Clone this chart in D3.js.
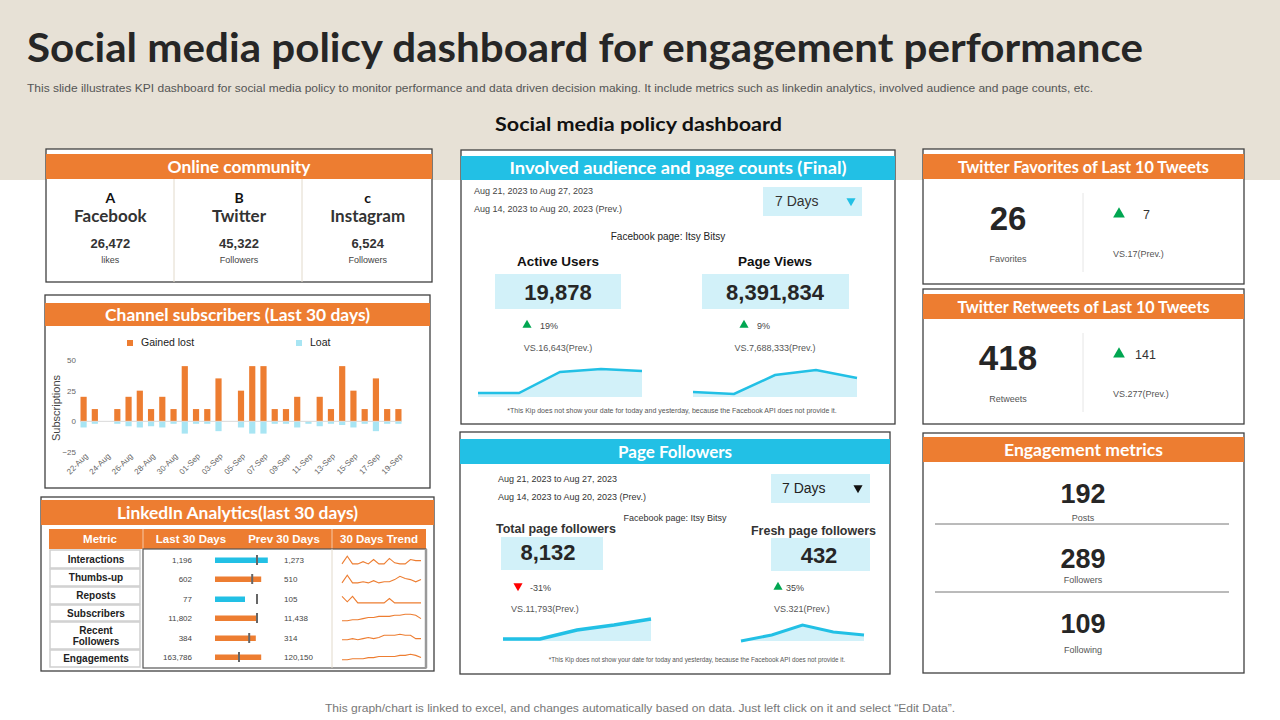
<!DOCTYPE html>
<html lang="en">
<head>
<meta charset="utf-8">
<title>Social media policy dashboard</title>
<script src="https://d3js.org/d3.v7.min.js"></script>
<style>
  body { margin: 0; background: #fff; }
  svg { display: block; }
  text { font-family: "Liberation Sans", Arial, sans-serif; }
  .hd { font-family: Lato, "Open Sans", sans-serif; font-weight: 700; }
</style>
</head>
<body>
<script>

const W = 1280, H = 720;
const orange = "#ED7D31", blue = "#22C0E5", pale = "#D2F1F9", paleBar = "#A8E5F3", green = "#00A651";

// ---- data ----
const days = ["22-Aug","23-Aug","24-Aug","25-Aug","26-Aug","27-Aug","28-Aug","29-Aug","30-Aug","31-Aug",
              "01-Sep","02-Sep","03-Sep","04-Sep","05-Sep","06-Sep","07-Sep","08-Sep","09-Sep","10-Sep",
              "11-Sep","12-Sep","13-Sep","14-Sep","15-Sep","16-Sep","17-Sep","18-Sep","19-Sep"];
const gained = [20,10,0,10,20,25,10,20,10,45, 10,10,35,0,25,45,45,10,10,20, 0,20,10,45,25,10,35,10,10];
const lost   = [-5,-2,0,-2,-4,-5,-4,-5,-2,-10, -2,-2,-8,0,-5,-10,-10,-2,-2,-5, -2,-4,-2,-3,-5,-2,-8,-2,-2];
const subTicks = [50, 25, 0, -25];

const networks = ["Facebook", "Twitter", "Instagram"];
const networkLetters = ["A", "B", "c"];
const networkValues = ["26,472", "45,322", "6,524"];
const networkUnits = ["likes", "Followers", "Followers"];

const liMetrics = ["Interactions", "Thumbs-up", "Reposts", "Subscribers", "Recent|Followers", "Engagements"];
const liLast = ["1,196", "602", "77", "11,802", "384", "163,786"];
const liPrev = ["1,273", "510", "105", "11,438", "314", "120,150"];
const liBar = [88, 77, 50, 70, 68, 77];      // bullet bar, % of scale
const liTarget = [70, 62, 70, 70, 57, 40];   // bullet marker, % of scale
const liBarBlue = [true, false, true, false, false, false];
const liTrend = [
  [1, 8, 1, 1, 3, 1, 5, 1, 1, 6, 2, 1, 1, 5, 4, 4],
  [1, 8, 1, 1, 2, 1, 3, 1, 2, 2, 4, 7, 5, 4, 2, 4],
  [7, 2, 7, 1, 1, 1, 1, 1, 1, 5, 1, 1, 1, 1, 1, 1],
  [2, 2, 3, 3, 4, 5, 5, 6, 6, 6, 7, 7, 8, 8, 7, 4],
  [3, 3, 4, 3, 4, 5, 4, 5, 7, 7, 7, 8, 7, 7, 4, 4],
  [2, 2, 3, 3, 3, 4, 4, 5, 5, 5, 5, 6, 6, 7, 6, 4]
];

const activeUsersTrend = [4, 4, 25, 28, 26];
const pageViewsTrend = [5, 3, 22, 27, 19];
const totalFollowersTrend = [2, 2, 11, 16, 22];
const freshFollowersTrend = [0, 6, 16, 9, 6];

const engValues = ["192", "289", "109"];
const engLabels = ["Posts", "Followers", "Following"];

// ---- canvas ----
const svg = d3.select("body").append("svg").attr("width", W).attr("height", H);
svg.append("rect").attr("width", W).attr("height", H).attr("fill", "#fff");
svg.append("rect").attr("width", W).attr("height", 180).attr("fill", "#E7E1D6");

svg.append("text").attr("class", "hd").attr("x", 27).attr("y", 62)
   .attr("font-size", 40).attr("fill", "#262626")
   .attr("textLength", 1116).attr("lengthAdjust", "spacingAndGlyphs")
   .text("Social media policy dashboard for engagement performance");
svg.append("text").attr("x", 27).attr("y", 92).attr("font-size", 11.5).attr("fill", "#555")
   .attr("textLength", 1066).attr("lengthAdjust", "spacingAndGlyphs")
   .text("This slide illustrates KPI dashboard for social media policy to monitor performance and data driven decision making. It include metrics such as linkedin analytics, involved audience and page counts, etc.");
svg.append("text").attr("class", "hd").attr("x", 495).attr("y", 131).attr("font-size", 19).attr("fill", "#111")
   .attr("textLength", 287).attr("lengthAdjust", "spacingAndGlyphs")
   .text("Social media policy dashboard");

function panel(x, y, w, h, hy, hh, title, color, tl) {
  const g = svg.append("g");
  g.append("rect").attr("x", x).attr("y", y).attr("width", w).attr("height", h)
   .attr("fill", "#fff").attr("stroke", "#404040").attr("stroke-width", 1.3);
  g.append("rect").attr("x", x).attr("y", hy).attr("width", w).attr("height", hh).attr("fill", color);
  g.append("text").attr("class", "hd").attr("x", x + w / 2 - tl / 2).attr("y", hy + hh / 2 + 6)
   .attr("font-size", 17).attr("fill", "#fff")
   .attr("textLength", tl).attr("lengthAdjust", "spacingAndGlyphs").text(title);
  return g;
}
function txt(g, x, y, s, size, opts = {}) {
  return g.append("text").attr("x", x).attr("y", y).attr("font-size", size)
    .attr("fill", opts.fill || "#333").attr("font-weight", opts.bold ? 700 : 400)
    .attr("text-anchor", opts.anchor || "start").text(s);
}
function tri(g, x, y, color, down, size = 36) {
  g.append("path").attr("d", d3.symbol(d3.symbolTriangle).size(size)())
   .attr("transform", `translate(${x},${y}) rotate(${down ? 180 : 0})`).attr("fill", color);
}

// ---- Online community ----
const pc = panel(46, 149, 386, 133, 154, 25, "Online community", orange, 143);
const colX = d3.scaleBand().domain(networks).range([46, 432]);
[174, 302].forEach(x => pc.append("line").attr("x1", x).attr("x2", x).attr("y1", 179).attr("y2", 282)
  .attr("stroke", "#E2DACB"));
networks.forEach((n, i) => {
  const cx = colX(n) + colX.bandwidth() / 2;
  pc.append("text").attr("class", "hd").attr("x", cx).attr("y", 203).attr("text-anchor", "middle")
    .attr("font-size", 14).attr("fill", "#111").text(networkLetters[i]);
  pc.append("text").attr("class", "hd").attr("x", cx).attr("y", 222).attr("text-anchor", "middle")
    .attr("font-size", 17).attr("font-weight", 600).attr("fill", "#333").text(n);
  txt(pc, cx, 248, networkValues[i], 13, { bold: true, anchor: "middle", fill: "#333" });
  txt(pc, cx, 263, networkUnits[i], 9, { anchor: "middle", fill: "#444" });
});

// ---- Channel subscribers ----
const ps = panel(45, 295, 385, 193, 303, 23, "Channel subscribers  (Last 30 days)", orange, 265);
const x = d3.scaleBand().domain(days).range([80.5, 401.5]).paddingInner(0.45);
const y = d3.scaleLinear().domain([-25, 50]).range([452, 360]);
ps.append("rect").attr("x", 127).attr("y", 340).attr("width", 6).attr("height", 6).attr("fill", orange);
txt(ps, 141, 346, "Gained lost", 10.5, { fill: "#222" });
ps.append("rect").attr("x", 296).attr("y", 340).attr("width", 6).attr("height", 6).attr("fill", paleBar);
txt(ps, 310, 346, "Loat", 10.5, { fill: "#222" });

const yAx = ps.append("g").attr("transform", "translate(78,0)")
  .call(d3.axisLeft(y).tickValues(subTicks).tickSize(0).tickPadding(2));
yAx.select(".domain").remove();
yAx.selectAll("text").attr("font-size", 8).attr("fill", "#666").attr("font-family", "Liberation Sans, Arial");

ps.selectAll(".g").data(days).enter().append("rect")
  .attr("x", d => x(d)).attr("width", x.bandwidth())
  .attr("y", (d, i) => y(gained[i])).attr("height", (d, i) => y(0) - y(gained[i])).attr("fill", orange);
ps.selectAll(".l").data(days).enter().append("rect")
  .attr("x", d => x(d)).attr("width", x.bandwidth())
  .attr("y", y(0)).attr("height", (d, i) => y(lost[i]) - y(0)).attr("fill", paleBar);
ps.append("line").attr("x1", 80).attr("x2", 402).attr("y1", y(0)).attr("y2", y(0))
  .attr("stroke", "#D9D9D9").attr("stroke-width", 1);

const xAx = ps.append("g").attr("transform", "translate(0,455)")
  .call(d3.axisBottom(x).tickValues(days.filter((d, i) => i % 2 === 0)).tickSize(0).tickPadding(0));
xAx.select(".domain").remove();
xAx.selectAll("text").attr("font-size", 8).attr("fill", "#666").attr("font-family", "Liberation Sans, Arial")
  .attr("text-anchor", "end").attr("dy", "0.3em").attr("transform", "translate(3,0) rotate(-45)");
ps.append("text").attr("transform", "translate(60,408) rotate(-90)").attr("text-anchor", "middle")
  .attr("font-size", 11).attr("fill", "#444").text("Subscriptions");

// ---- LinkedIn Analytics ----
const pl = panel(41, 497, 393, 174, 500, 25, "LinkedIn Analytics(last 30 days)", orange, 241);
pl.append("rect").attr("x", 49).attr("y", 529).attr("width", 377).attr("height", 20).attr("fill", orange);
[143, 332].forEach(xx => pl.append("line").attr("x1", xx).attr("x2", xx).attr("y1", 529).attr("y2", 549)
  .attr("stroke", "#F6C9A8"));
[["Metric", 100], ["Last 30 Days", 191], ["Prev 30 Days", 284], ["30 Days Trend", 379]].forEach(([s, cx]) =>
  txt(pl, cx, 543, s, 11.5, { bold: true, anchor: "middle", fill: "#fff" }));
pl.append("rect").attr("x", 143).attr("y", 549).attr("width", 283).attr("height", 119)
  .attr("fill", "none").attr("stroke", "#555").attr("stroke-width", 1.2);
pl.append("line").attr("x1", 426).attr("x2", 426).attr("y1", 549).attr("y2", 668)
  .attr("stroke", "#999").attr("stroke-width", 2.5);
pl.append("line").attr("x1", 332).attr("x2", 332).attr("y1", 549).attr("y2", 668).attr("stroke", "#E2DACB");

const cellTop = [550, 569, 587, 605, 622, 650];
const cellH = [18, 17, 17, 16, 27, 17];
const rowY = [560, 579, 599, 618, 638, 657];
const bx = d3.scaleLinear().domain([0, 100]).range([215, 275]);
const trendX = d3.scaleLinear().domain([0, 15]).range([342, 421]);
liMetrics.forEach((m, i) => {
  pl.append("rect").attr("x", 50).attr("y", cellTop[i]).attr("width", 90).attr("height", cellH[i])
    .attr("fill", "#fff").attr("stroke", "#CFCFCF").attr("stroke-width", 1.5);
  const lines = m.split("|");
  lines.forEach((s, j) => txt(pl, 96, cellTop[i] + cellH[i] / 2 + 3.5 + (j - (lines.length - 1) / 2) * 11, s, 10,
    { bold: true, anchor: "middle", fill: "#222" }));
  txt(pl, 192, rowY[i] + 3, liLast[i], 8, { anchor: "end", fill: "#444" });
  txt(pl, 284, rowY[i] + 3, liPrev[i], 8, { fill: "#444" });
  pl.append("rect").attr("x", bx(0)).attr("y", rowY[i] - 2.5).attr("width", bx(liBar[i]) - bx(0)).attr("height", 5.5)
    .attr("fill", liBarBlue[i] ? blue : orange);
  pl.append("rect").attr("x", bx(liTarget[i]) - 1).attr("y", rowY[i] - 5).attr("width", 2).attr("height", 10)
    .attr("fill", "#666");
  const ty = d3.scaleLinear().domain([0, 10]).range([rowY[i] + 5, rowY[i] - 6]);
  pl.append("path").datum(liTrend[i])
    .attr("d", d3.line().x((d, k) => trendX(k)).y(d => ty(d)))
    .attr("fill", "none").attr("stroke", orange).attr("stroke-width", 1.1);
});

// ---- area sparkline helper ----
function area(g, vals, x0, x1, base, top, vmax, thick) {
  const sx = d3.scaleLinear().domain([0, vals.length - 1]).range([x0, x1]);
  const sy = d3.scaleLinear().domain([0, vmax]).range([base, top]);
  g.append("path").datum(vals).attr("d", d3.area().x((d, i) => sx(i)).y0(base).y1(d => sy(d)))
    .attr("fill", pale);
  g.append("path").datum(vals).attr("d", d3.line().x((d, i) => sx(i)).y(d => sy(d)))
    .attr("fill", "none").attr("stroke", blue).attr("stroke-width", thick);
}

// ---- Involved audience ----
const pa = panel(461, 150, 434, 274, 156, 24, "Involved audience and page counts (Final)", blue, 337);
txt(pa, 474, 194, "Aug 21, 2023 to Aug 27, 2023", 9, { fill: "#444" });
txt(pa, 474, 212, "Aug 14, 2023 to Aug 20, 2023  (Prev.)", 9, { fill: "#444" });
pa.append("rect").attr("x", 763).attr("y", 187).attr("width", 99).attr("height", 29).attr("fill", pale);
txt(pa, 775, 206, "7 Days", 14, { fill: "#333" });
tri(pa, 851, 201, blue, true);
txt(pa, 668, 240, "Facebook page: Itsy Bitsy", 10, { anchor: "middle", fill: "#222" });
[["Active Users", "19,878", 558, 495, 126, "19%", "VS.16,643(Prev.)", activeUsersTrend, 478, 642, 28],
 ["Page Views", "8,391,834", 775, 702, 147, "9%", "VS.7,688,333(Prev.)", pageViewsTrend, 693, 857, 27]]
 .forEach(([lab, val, cx, rx, rw, pct, vs, tr, ax0, ax1, vmax]) => {
   txt(pa, cx, 266, lab, 13.5, { bold: true, anchor: "middle", fill: "#111" });
   pa.append("rect").attr("x", rx).attr("y", 274).attr("width", rw).attr("height", 35).attr("fill", pale);
   txt(pa, cx, 300, val, 22, { bold: true, anchor: "middle", fill: "#262626" });
   tri(pa, cx - 31, 325, green, false);
   txt(pa, cx - 18, 329, pct, 9, { fill: "#444" });
   txt(pa, cx, 351, vs, 9, { anchor: "middle", fill: "#555" });
   area(pa, tr, ax0, ax1, 397, 397 - vmax, vmax, 2.5);
 });
txt(pa, 672, 413, "*This Kip does not show your date for today and yesterday, because the Facebook API does not provide it.", 7,
  { anchor: "middle", fill: "#555" });

// ---- Page Followers ----
const pf = panel(460, 432, 430, 242, 439, 25, "Page Followers", blue, 114);
txt(pf, 498, 482, "Aug 21, 2023 to Aug 27, 2023", 9, { fill: "#333" });
txt(pf, 498, 500, "Aug 14, 2023 to Aug 20, 2023  (Prev.)", 9, { fill: "#333" });
pf.append("rect").attr("x", 771).attr("y", 474).attr("width", 99).attr("height", 29).attr("fill", pale);
txt(pf, 782, 493, "7 Days", 14, { fill: "#222" });
tri(pf, 858, 488, "#111", true);
txt(pf, 675, 521, "Facebook page: Itsy Bitsy", 9, { anchor: "middle", fill: "#333" });
txt(pf, 496, 533, "Total page followers", 12.5, { bold: true, fill: "#333" });
txt(pf, 876, 535, "Fresh page followers", 12.5, { bold: true, anchor: "end", fill: "#333" });
pf.append("rect").attr("x", 501).attr("y", 537).attr("width", 102).attr("height", 33).attr("fill", pale);
pf.append("rect").attr("x", 771).attr("y", 538).attr("width", 99).attr("height", 33).attr("fill", pale);
txt(pf, 548, 560, "8,132", 22, { bold: true, anchor: "middle", fill: "#262626" });
txt(pf, 819, 563, "432", 22, { bold: true, anchor: "middle", fill: "#262626" });
tri(pf, 518, 586, "#FF0000", true);
txt(pf, 530, 591, "-31%", 9, { fill: "#444" });
tri(pf, 778, 587, green, false);
txt(pf, 786, 591, "35%", 9, { fill: "#444" });
txt(pf, 511, 612, "VS.11,793(Prev.)", 9, { fill: "#555" });
txt(pf, 774, 612, "VS.321(Prev.)", 9, { fill: "#555" });
area(pf, totalFollowersTrend, 503, 651, 641, 619, 22, 3.5);
area(pf, freshFollowersTrend, 741, 864, 641, 625, 16, 3);
txt(pf, 697, 662, "*This Kip does not show your date for today and yesterday, because the Facebook API does not provide it.", 6.3,
  { anchor: "middle", fill: "#555" });

// ---- Twitter panels ----
function twitter(top, title, tl, big, bigSize, label, delta, vs) {
  const g = panel(923, top, 321, 135, top + 5, 25, title, orange, tl);
  g.append("line").attr("x1", 1083).attr("x2", 1083).attr("y1", top + 44).attr("y2", top + 123).attr("stroke", "#E6E6E6");
  txt(g, 1008, top + 81, big, bigSize, { bold: true, anchor: "middle", fill: "#262626" });
  txt(g, 1008, top + 113, label, 9, { anchor: "middle", fill: "#555" });
  tri(g, 1119, top + 65, green, false, 60);
  txt(g, delta.length > 1 ? 1135 : 1143, top + 70, delta, 12.5, { fill: "#333" });
  txt(g, 1113, top + 108, vs, 9, { fill: "#555" });
}
twitter(149, "Twitter  Favorites  of  Last  10  Tweets", 251, "26", 33, "Favorites", "7", "VS.17(Prev.)");
twitter(289, "Twitter  Retweets  of  Last  10  Tweets", 252, "418", 35, "Retweets", "141", "VS.277(Prev.)");

// ---- Engagement metrics ----
const pe = panel(923, 433, 321, 240, 437, 25, "Engagement metrics", orange, 159);
const engY = d3.scalePoint().domain(engLabels).range([503, 633]);
const labY = [521, 583, 653];
engLabels.forEach((l, i) => {
  txt(pe, 1083, engY(l), engValues[i], 27, { bold: true, anchor: "middle", fill: "#262626" });
  txt(pe, 1083, labY[i], l, 9, { anchor: "middle", fill: "#555" });
});
[524, 592].forEach(yy => pe.append("line").attr("x1", 935).attr("x2", 1229).attr("y1", yy).attr("y2", yy)
  .attr("stroke", "#777"));

// ---- footer ----
txt(svg, 640, 712, "This graph/chart is linked to excel,  and changes automatically based on data. Just left click on it and select \u201CEdit Data\u201D.", 11.5,
  { anchor: "middle", fill: "#777" })
  .attr("textLength", 630).attr("lengthAdjust", "spacingAndGlyphs");

</script>
</body>
</html>
